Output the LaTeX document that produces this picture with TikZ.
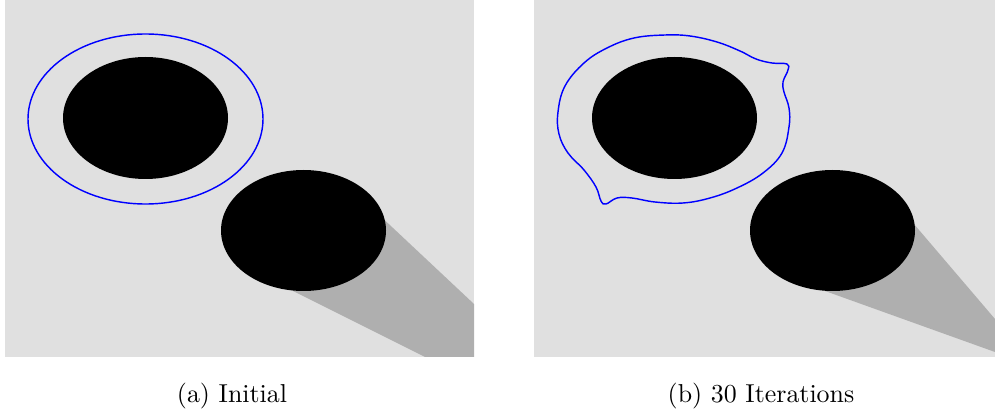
\documentclass[tikz,border=0pt]{standalone}
\definecolor{hell}{RGB}{224,224,224}
\definecolor{mittel}{RGB}{175,175,175}
\tikzset{
    feld/.style={fill=hell},
    schatten/.style={fill=mittel},
    scheibe/.style={fill=black},
    kontur/.style={draw=blue, line width=0.55pt},
    beschriftung/.style={anchor=base, inner sep=0pt}
}
\begin{document}
\begin{tikzpicture}[x=0.386pt, y=-0.386pt]
    \useasboundingbox (0,0) rectangle (995,417);
    % (a) Anfang
    \fill[feld] (5,0) rectangle (474,357);
    \fill[schatten] (360,197) -- (474,304) -- (474,357) -- (425,357) -- (280,284.5) -- cycle;
    \fill[scheibe] (145.5,118) ellipse [x radius=82.5, y radius=61];
    \fill[scheibe] (303.5,230.5) ellipse [x radius=82.5, y radius=60.5];
    \draw[kontur] (145.5,119) ellipse [x radius=117.5, y radius=85];
    % (b) nach 30 Schritten
    \fill[feld] (534,0) rectangle (995,357);
    \fill[schatten] (890,196) -- (995,319) -- (995,352) -- (810,285.6) -- cycle;
    \fill[scheibe] (674.5,118) ellipse [x radius=82.5, y radius=61];
    \fill[scheibe] (832.5,230.5) ellipse [x radius=82.5, y radius=60.5];
    \draw[kontur] plot[smooth cycle, tension=0.65] coordinates {
        (665,35) (690,36) (717,42) (740,51) (756,59)
        (772,63) (787,64) (788,70) (783,82) (784,92)
        (789,108) (789,127) (782,153) (763,173) (737,188)
        (710,198) (683,203) (655,202) (632,198) (617,198)
        (606,204) (601,201) (596,187) (584,170) (568,153)
        (559,134) (558,112) (565,86) (584,63) (607,48) (634,38)};
    % Beschriftungen
    \path node[beschriftung] (capa) at (232,403) {(a) Initial}
          node[beschriftung] (capb) at (761,403) {(b) 30 Iterations};
\end{tikzpicture}
\end{document}
